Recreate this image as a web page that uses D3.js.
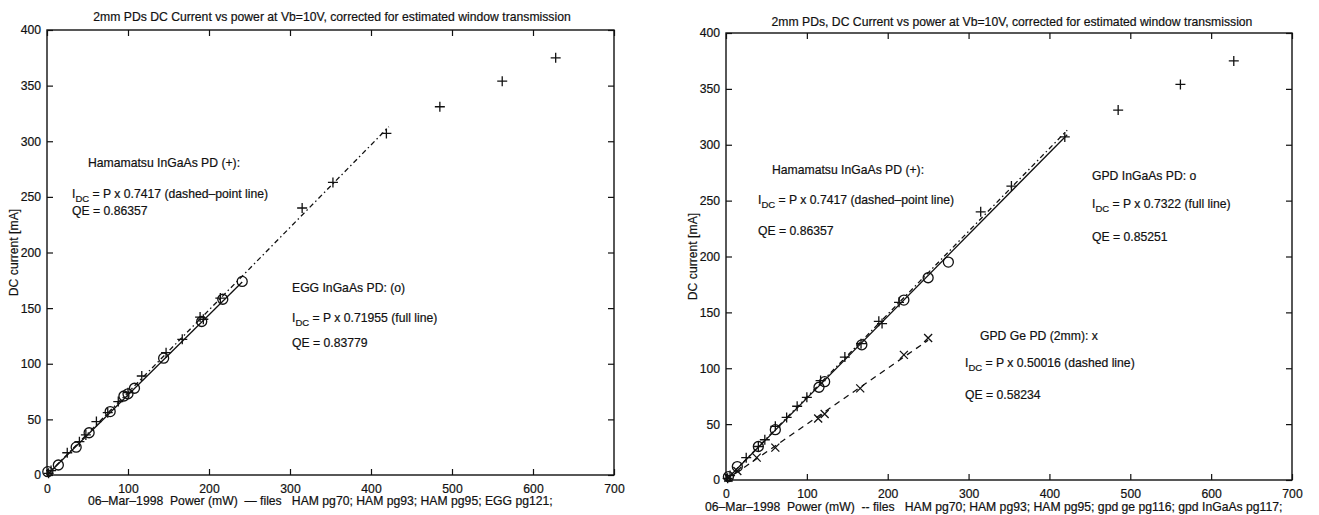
<!DOCTYPE html>
<html>
<head>
<meta charset="utf-8">
<script src="https://cdn.jsdelivr.net/npm/d3@7/dist/d3.min.js"></script>
<style>
  html, body { margin: 0; padding: 0; background: #fff; }
  svg { display: block; }
  text { font-family: "Liberation Sans", Arial, sans-serif; fill: #111; stroke: #111; stroke-width: 0.2px; }
</style>
</head>
<body>
<svg id="fig" width="1319" height="515"></svg>
<script>
// Measured points [power mW, DC current mA]
const hamData = [[2,1.5],[5,4],[25,20],[40,30],[48,36],[61,48],[75,56],[88,66],[100,74],[117,89],
  [147,110],[167,122],[189,142],[193,140],[214,159],[315,240],[353,263],[419,307],[485,331],[562,354],[628,375]];
const eggData = [[1,3],[14,9],[36,25],[52,38],[78,57],[95,71],[100,73],[108,78],[144,105],[191,138],[217,158],[241,174]];
const gpdInGaAsData = [[3,3],[14,12],[40,30],[61,45],[115,83],[122,88],[168,121],[220,161],[250,181],[275,195]];
const gpdGeData = [[3,2],[14,8],[38,20],[61,29],[114,55],[122,59],[166,82],[220,112],[250,127]];

// Linear fits: slope (mA/mW) and power range they are drawn over
const hamFit = { slope: 0.7417, range: [0, 422] };
const eggFit = { slope: 0.71955, range: [0, 241] };
const gpdInGaAsFit = { slope: 0.7322, range: [0, 422] };
const gpdGeFit = { slope: 0.50016, range: [0, 250] };

const xTicks = [0, 100, 200, 300, 400, 500, 600, 700];
const yTicks = [0, 50, 100, 150, 200, 250, 300, 350, 400];

const titles = [
  "2mm PDs DC Current vs power at Vb=10V, corrected for estimated window transmission",
  "2mm PDs, DC Current vs power at Vb=10V, corrected for estimated window transmission"
];
const footers = [
  "06\u2013Mar\u20131998  Power (mW)  \u2014 files   HAM pg70; HAM pg93; HAM pg95; EGG pg121;",
  "06\u2013Mar\u20131998  Power (mW)  -- files   HAM pg70; HAM pg93; HAM pg95; gpd ge pg116; gpd InGaAs pg117;"
];

const svg = d3.select("#fig");
const ink = "#111";
const FS = 12.2;

function drawPanel(cfg) {
  const x = d3.scaleLinear().domain([0, 700]).range([cfg.left, cfg.right]);
  const y = d3.scaleLinear().domain([0, 400]).range([cfg.bottom, cfg.top]);
  const g = svg.append("g");

  // frame
  g.append("rect").attr("x", cfg.left).attr("y", cfg.top)
    .attr("width", cfg.right - cfg.left).attr("height", cfg.bottom - cfg.top)
    .attr("fill", "none").attr("stroke", ink).attr("stroke-width", 1.4);

  const style = sel => {
    sel.select(".domain").remove();
    sel.selectAll("line").attr("stroke", ink).attr("stroke-width", 1.2);
    sel.selectAll("text").attr("font-size", FS).attr("fill", ink)
      .attr("font-family", "'Liberation Sans', Arial, sans-serif");
  };
  g.append("g").attr("transform", `translate(0,${cfg.bottom})`)
    .call(d3.axisBottom(x).tickValues(xTicks).tickSize(-6).tickPadding(9).tickFormat(d3.format("d"))).call(style);
  g.append("g").attr("transform", `translate(0,${cfg.top})`)
    .call(d3.axisTop(x).tickValues(xTicks).tickSize(-6).tickFormat("")).call(style);
  g.append("g").attr("transform", `translate(${cfg.left},0)`)
    .call(d3.axisLeft(y).tickValues(yTicks).tickSize(-6).tickPadding(6).tickFormat(d3.format("d"))).call(style);
  g.append("g").attr("transform", `translate(${cfg.right},0)`)
    .call(d3.axisRight(y).tickValues(yTicks).tickSize(-6).tickFormat("")).call(style);

  // titles and labels
  g.append("text").attr("x", cfg.titleX).attr("y", cfg.titleY)
    .attr("text-anchor", "middle").attr("font-size", FS).text(cfg.title);
  g.append("text").attr("transform", `translate(${cfg.yLabelX},${(cfg.top + cfg.bottom) / 2}) rotate(-90)`)
    .attr("text-anchor", "middle").attr("font-size", FS).text("DC current [mA]");
  g.append("text").attr("x", cfg.footerX).attr("y", cfg.footerY)
    .attr("font-size", FS).style("white-space", "pre").text(cfg.footer);

  // fit lines
  const line = d3.line().x(d => x(d[0])).y(d => y(d[1]));
  cfg.fits.forEach(f => {
    const pts = f.fit.range.map(p => [p, p * f.fit.slope]);
    g.append("path").attr("d", line(pts)).attr("fill", "none")
      .attr("stroke", ink).attr("stroke-width", 1.3)
      .attr("stroke-dasharray", f.dash || null);
  });

  // markers
  cfg.series.forEach(s => {
    const mg = g.append("g").attr("stroke", ink).attr("fill", "none").attr("stroke-width", 1.3);
    s.data.forEach(d => {
      const cx = x(d[0]), cy = y(d[1]);
      if (s.marker === "plus") {
        mg.append("path").attr("d", `M${cx - 5},${cy}H${cx + 5}M${cx},${cy - 5}V${cy + 5}`);
      } else if (s.marker === "circle") {
        mg.append("circle").attr("cx", cx).attr("cy", cy).attr("r", 5);
      } else {
        mg.append("path").attr("d", `M${cx - 4},${cy - 4}L${cx + 4},${cy + 4}M${cx - 4},${cy + 4}L${cx + 4},${cy - 4}`);
      }
    });
  });

  // annotations
  cfg.notes.forEach(n => {
    const t = g.append("text").attr("x", n.x).attr("y", n.y).attr("font-size", FS);
    if (n.sub) {
      t.append("tspan").text("I");
      t.append("tspan").attr("font-size", 9.5).attr("dy", 4).text("DC");
      t.append("tspan").attr("dy", -4).text(" = " + n.text);
    } else {
      t.text(n.text);
    }
  });
}

drawPanel({
  left: 47, right: 614, top: 30, bottom: 475,
  title: titles[0], titleX: 332, titleY: 21,
  yLabelX: 18, footer: footers[0], footerX: 88, footerY: 505,
  fits: [
    { fit: hamFit, dash: "5,3,1.5,3" },
    { fit: eggFit }
  ],
  series: [
    { data: hamData, marker: "plus" },
    { data: eggData, marker: "circle" }
  ],
  notes: [
    { x: 88, y: 167, text: "Hamamatsu InGaAs PD (+):" },
    { x: 72, y: 198, text: "P x 0.7417 (dashed\u2013point line)", sub: true },
    { x: 72, y: 215, text: "QE = 0.86357" },
    { x: 292, y: 292, text: "EGG InGaAs PD: (o)" },
    { x: 292, y: 322, text: "P x 0.71955 (full line)", sub: true },
    { x: 292, y: 347, text: "QE = 0.83779" }
  ]
});

drawPanel({
  left: 726, right: 1292, top: 33, bottom: 480,
  title: titles[1], titleX: 1012, titleY: 26,
  yLabelX: 697, footer: footers[1], footerX: 705, footerY: 511,
  fits: [
    { fit: hamFit, dash: "5,3,1.5,3" },
    { fit: gpdInGaAsFit },
    { fit: gpdGeFit, dash: "6,5" }
  ],
  series: [
    { data: hamData, marker: "plus" },
    { data: gpdInGaAsData, marker: "circle" },
    { data: gpdGeData, marker: "cross" }
  ],
  notes: [
    { x: 772, y: 174, text: "Hamamatsu InGaAs PD (+):" },
    { x: 758, y: 204, text: "P x 0.7417 (dashed\u2013point line)", sub: true },
    { x: 758, y: 235, text: "QE = 0.86357" },
    { x: 1092, y: 180, text: "GPD InGaAs PD: o" },
    { x: 1092, y: 208, text: "P x 0.7322 (full line)", sub: true },
    { x: 1092, y: 241, text: "QE = 0.85251" },
    { x: 980, y: 340, text: "GPD Ge PD (2mm): x" },
    { x: 965, y: 367, text: "P x 0.50016 (dashed line)", sub: true },
    { x: 965, y: 399, text: "QE = 0.58234" }
  ]
});
</script>
</body>
</html>
